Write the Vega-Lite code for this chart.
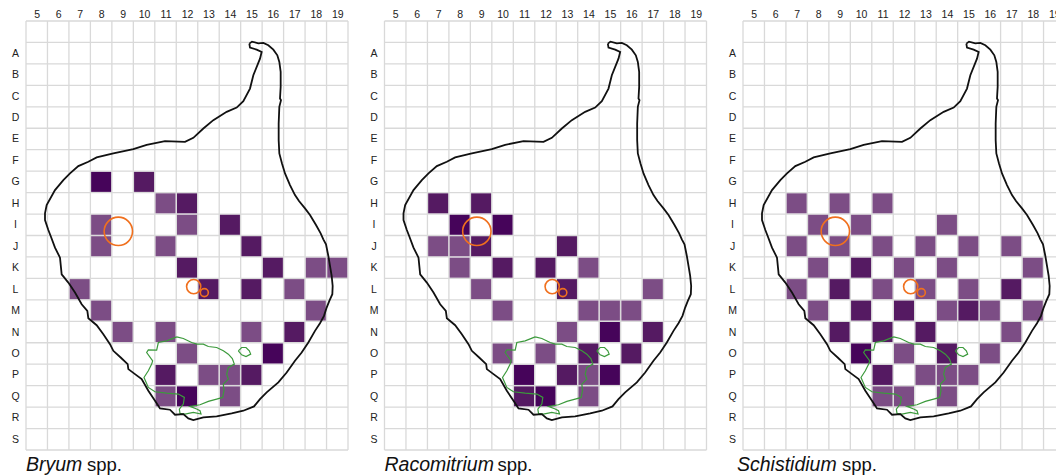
{"$schema":"https://vega.github.io/schema/vega-lite/v6.json","background":"white","padding":{"left":10,"top":9,"right":0,"bottom":0},"bounds":"flush","spacing":36.5,"config":{"view":{"stroke":null},"font":"Liberation Sans","axis":{"labelFont":"Liberation Sans","labelFontSize":10.5,"labelColor":"#222222","domain":false,"ticks":false,"grid":false,"title":null,"labelAngle":0}},
"datasets":{
"gridx":[{"x":78},{"x":142.4},{"x":206.8},{"x":271.2},{"x":335.6},{"x":400},{"x":464.4},{"x":528.8},{"x":593.2},{"x":657.6},{"x":722},{"x":786.4},{"x":850.8},{"x":915.2},{"x":979.6},{"x":1044}],
"gridy":[{"y":62},{"y":126.45},{"y":190.9},{"y":255.35},{"y":319.8},{"y":384.25},{"y":448.7},{"y":513.15},{"y":577.6},{"y":642.05},{"y":706.5},{"y":770.95},{"y":835.4},{"y":899.85},{"y":964.3},{"y":1028.75},{"y":1093.2},{"y":1157.65},{"y":1222.1},{"y":1286.55},{"y":1351}],
"outline":[{"x":748,"y":130},{"x":756,"y":124},{"x":775,"y":129},{"x":790,"y":128},{"x":805,"y":135},{"x":820,"y":148},{"x":832,"y":165},{"x":838,"y":185},{"x":842,"y":215},{"x":842,"y":260},{"x":840,"y":295},{"x":843,"y":300},{"x":838,"y":320},{"x":836,"y":370},{"x":836,"y":420},{"x":838,"y":460},{"x":846,"y":490},{"x":855,"y":520},{"x":870,"y":555},{"x":885,"y":585},{"x":897,"y":603},{"x":915,"y":625},{"x":930,"y":645},{"x":948,"y":675},{"x":962,"y":700},{"x":970,"y":718},{"x":978,"y":733},{"x":985,"y":768},{"x":990,"y":798},{"x":995,"y":828},{"x":998,"y":858},{"x":997,"y":883},{"x":988,"y":903},{"x":980,"y":923},{"x":972,"y":948},{"x":960,"y":970},{"x":945,"y":993},{"x":925,"y":1028},{"x":905,"y":1058},{"x":885,"y":1083},{"x":860,"y":1118},{"x":835,"y":1148},{"x":800,"y":1178},{"x":780,"y":1198},{"x":762,"y":1220},{"x":730,"y":1233},{"x":695,"y":1241},{"x":650,"y":1250},{"x":610,"y":1253},{"x":580,"y":1261},{"x":565,"y":1256},{"x":550,"y":1243},{"x":525,"y":1245},{"x":510,"y":1230},{"x":480,"y":1226},{"x":465,"y":1203},{"x":445,"y":1173},{"x":425,"y":1138},{"x":405,"y":1123},{"x":385,"y":1108},{"x":383,"y":1093},{"x":362,"y":1073},{"x":340,"y":1053},{"x":330,"y":1033},{"x":310,"y":1003},{"x":290,"y":976},{"x":265,"y":955},{"x":262,"y":933},{"x":245,"y":913},{"x":225,"y":878},{"x":205,"y":848},{"x":185,"y":823},{"x":180,"y":773},{"x":165,"y":743},{"x":152,"y":708},{"x":145,"y":690},{"x":135,"y":660},{"x":135,"y":640},{"x":140,"y":615},{"x":165,"y":570},{"x":190,"y":540},{"x":210,"y":520},{"x":235,"y":498},{"x":265,"y":485},{"x":290,"y":472},{"x":340,"y":460},{"x":400,"y":447},{"x":440,"y":434},{"x":495,"y":423},{"x":555,"y":425},{"x":580,"y":413},{"x":610,"y":385},{"x":640,"y":360},{"x":680,"y":335},{"x":710,"y":322},{"x":730,"y":303},{"x":750,"y":265},{"x":760,"y":225},{"x":780,"y":175},{"x":785,"y":155},{"x":770,"y":148},{"x":750,"y":142},{"x":748,"y":130}],
"lake":[{"p":"a","x":530,"y":1011},{"p":"a","x":550,"y":1016},{"p":"a","x":575,"y":1028},{"p":"a","x":590,"y":1033},{"p":"a","x":610,"y":1033},{"p":"a","x":625,"y":1040},{"p":"a","x":650,"y":1043},{"p":"a","x":670,"y":1053},{"p":"a","x":685,"y":1063},{"p":"a","x":697,"y":1076},{"p":"a","x":703,"y":1093},{"p":"a","x":685,"y":1103},{"p":"a","x":680,"y":1123},{"p":"a","x":685,"y":1138},{"p":"a","x":670,"y":1153},{"p":"a","x":672,"y":1173},{"p":"a","x":668,"y":1193},{"p":"a","x":650,"y":1198},{"p":"a","x":625,"y":1205},{"p":"a","x":600,"y":1215},{"p":"a","x":570,"y":1220},{"p":"a","x":590,"y":1228},{"p":"a","x":600,"y":1233},{"p":"a","x":603,"y":1243},{"p":"a","x":580,"y":1238},{"p":"a","x":555,"y":1243},{"p":"a","x":540,"y":1241},{"p":"a","x":538,"y":1228},{"p":"a","x":550,"y":1213},{"p":"a","x":553,"y":1193},{"p":"a","x":535,"y":1183},{"p":"a","x":500,"y":1180},{"p":"a","x":465,"y":1176},{"p":"a","x":445,"y":1163},{"p":"a","x":432,"y":1133},{"p":"a","x":445,"y":1113},{"p":"a","x":455,"y":1093},{"p":"a","x":458,"y":1083},{"p":"a","x":440,"y":1058},{"p":"a","x":445,"y":1050},{"p":"a","x":470,"y":1051},{"p":"a","x":475,"y":1028},{"p":"a","x":500,"y":1023},{"p":"a","x":530,"y":1011},{"p":"b","x":715,"y":1053},{"p":"b","x":725,"y":1043},{"p":"b","x":738,"y":1043},{"p":"b","x":748,"y":1053},{"p":"b","x":752,"y":1063},{"p":"b","x":738,"y":1070},{"p":"b","x":725,"y":1065},{"p":"b","x":715,"y":1053}],
"circles":[{"x":355,"y":694,"d":804},{"x":581,"y":860,"d":201},{"x":613,"y":878,"d":64}],
"labels":[{"s":"Bryum","t":"Bryum","k":"i","x":78,"y":1413},{"s":"Bryum","t":"spp.","k":"n","x":261,"y":1413},{"s":"Racomitrium","t":"Racomitrium","k":"i","x":78,"y":1413},{"s":"Racomitrium","t":"spp.","k":"n","x":417,"y":1413},{"s":"Schistidium","t":"Schistidium","k":"i","x":60,"y":1413},{"s":"Schistidium","t":"spp.","k":"n","x":375,"y":1413}],
"cells":[
{"s":"Bryum","c":8,"r":"G","v":"3"},{"s":"Bryum","c":10,"r":"G","v":"2"},{"s":"Bryum","c":11,"r":"H","v":"1"},{"s":"Bryum","c":12,"r":"H","v":"2"},{"s":"Bryum","c":8,"r":"I","v":"1"},{"s":"Bryum","c":12,"r":"I","v":"1"},{"s":"Bryum","c":14,"r":"I","v":"2"},{"s":"Bryum","c":8,"r":"J","v":"1"},{"s":"Bryum","c":11,"r":"J","v":"1"},{"s":"Bryum","c":15,"r":"J","v":"2"},{"s":"Bryum","c":12,"r":"K","v":"2"},{"s":"Bryum","c":16,"r":"K","v":"2"},{"s":"Bryum","c":18,"r":"K","v":"1"},{"s":"Bryum","c":19,"r":"K","v":"1"},{"s":"Bryum","c":7,"r":"L","v":"1"},{"s":"Bryum","c":13,"r":"L","v":"2"},{"s":"Bryum","c":15,"r":"L","v":"2"},{"s":"Bryum","c":17,"r":"L","v":"1"},{"s":"Bryum","c":8,"r":"M","v":"1"},{"s":"Bryum","c":18,"r":"M","v":"1"},{"s":"Bryum","c":9,"r":"N","v":"1"},{"s":"Bryum","c":11,"r":"N","v":"1"},{"s":"Bryum","c":15,"r":"N","v":"1"},{"s":"Bryum","c":17,"r":"N","v":"2"},{"s":"Bryum","c":12,"r":"O","v":"1"},{"s":"Bryum","c":16,"r":"O","v":"3"},{"s":"Bryum","c":11,"r":"P","v":"2"},{"s":"Bryum","c":13,"r":"P","v":"1"},{"s":"Bryum","c":14,"r":"P","v":"1"},{"s":"Bryum","c":15,"r":"P","v":"2"},{"s":"Bryum","c":11,"r":"Q","v":"1"},{"s":"Bryum","c":12,"r":"Q","v":"3"},{"s":"Bryum","c":14,"r":"Q","v":"1"},
{"s":"Racomitrium","c":7,"r":"H","v":"2"},{"s":"Racomitrium","c":9,"r":"H","v":"2"},{"s":"Racomitrium","c":8,"r":"I","v":"3"},{"s":"Racomitrium","c":10,"r":"I","v":"3"},{"s":"Racomitrium","c":7,"r":"J","v":"1"},{"s":"Racomitrium","c":8,"r":"J","v":"1"},{"s":"Racomitrium","c":9,"r":"J","v":"2"},{"s":"Racomitrium","c":13,"r":"J","v":"2"},{"s":"Racomitrium","c":8,"r":"K","v":"1"},{"s":"Racomitrium","c":10,"r":"K","v":"2"},{"s":"Racomitrium","c":12,"r":"K","v":"2"},{"s":"Racomitrium","c":14,"r":"K","v":"1"},{"s":"Racomitrium","c":9,"r":"L","v":"1"},{"s":"Racomitrium","c":13,"r":"L","v":"2"},{"s":"Racomitrium","c":17,"r":"L","v":"1"},{"s":"Racomitrium","c":10,"r":"M","v":"1"},{"s":"Racomitrium","c":14,"r":"M","v":"1"},{"s":"Racomitrium","c":15,"r":"M","v":"1"},{"s":"Racomitrium","c":16,"r":"M","v":"1"},{"s":"Racomitrium","c":13,"r":"N","v":"1"},{"s":"Racomitrium","c":15,"r":"N","v":"3"},{"s":"Racomitrium","c":17,"r":"N","v":"2"},{"s":"Racomitrium","c":10,"r":"O","v":"1"},{"s":"Racomitrium","c":12,"r":"O","v":"1"},{"s":"Racomitrium","c":14,"r":"O","v":"2"},{"s":"Racomitrium","c":16,"r":"O","v":"2"},{"s":"Racomitrium","c":11,"r":"P","v":"3"},{"s":"Racomitrium","c":13,"r":"P","v":"2"},{"s":"Racomitrium","c":14,"r":"P","v":"1"},{"s":"Racomitrium","c":15,"r":"P","v":"3"},{"s":"Racomitrium","c":11,"r":"Q","v":"2"},{"s":"Racomitrium","c":12,"r":"Q","v":"3"},{"s":"Racomitrium","c":14,"r":"Q","v":"1"},
{"s":"Schistidium","c":7,"r":"H","v":"1"},{"s":"Schistidium","c":9,"r":"H","v":"1"},{"s":"Schistidium","c":11,"r":"H","v":"1"},{"s":"Schistidium","c":8,"r":"I","v":"1"},{"s":"Schistidium","c":10,"r":"I","v":"1"},{"s":"Schistidium","c":14,"r":"I","v":"1"},{"s":"Schistidium","c":7,"r":"J","v":"1"},{"s":"Schistidium","c":9,"r":"J","v":"1"},{"s":"Schistidium","c":11,"r":"J","v":"1"},{"s":"Schistidium","c":13,"r":"J","v":"1"},{"s":"Schistidium","c":15,"r":"J","v":"1"},{"s":"Schistidium","c":17,"r":"J","v":"1"},{"s":"Schistidium","c":8,"r":"K","v":"1"},{"s":"Schistidium","c":10,"r":"K","v":"2"},{"s":"Schistidium","c":12,"r":"K","v":"1"},{"s":"Schistidium","c":14,"r":"K","v":"1"},{"s":"Schistidium","c":18,"r":"K","v":"1"},{"s":"Schistidium","c":7,"r":"L","v":"1"},{"s":"Schistidium","c":9,"r":"L","v":"2"},{"s":"Schistidium","c":11,"r":"L","v":"1"},{"s":"Schistidium","c":13,"r":"L","v":"1"},{"s":"Schistidium","c":15,"r":"L","v":"1"},{"s":"Schistidium","c":17,"r":"L","v":"2"},{"s":"Schistidium","c":8,"r":"M","v":"1"},{"s":"Schistidium","c":10,"r":"M","v":"2"},{"s":"Schistidium","c":12,"r":"M","v":"2"},{"s":"Schistidium","c":14,"r":"M","v":"1"},{"s":"Schistidium","c":15,"r":"M","v":"2"},{"s":"Schistidium","c":16,"r":"M","v":"1"},{"s":"Schistidium","c":18,"r":"M","v":"1"},{"s":"Schistidium","c":9,"r":"N","v":"2"},{"s":"Schistidium","c":11,"r":"N","v":"2"},{"s":"Schistidium","c":13,"r":"N","v":"2"},{"s":"Schistidium","c":17,"r":"N","v":"1"},{"s":"Schistidium","c":10,"r":"O","v":"3"},{"s":"Schistidium","c":12,"r":"O","v":"1"},{"s":"Schistidium","c":14,"r":"O","v":"2"},{"s":"Schistidium","c":16,"r":"O","v":"1"},{"s":"Schistidium","c":11,"r":"P","v":"2"},{"s":"Schistidium","c":13,"r":"P","v":"1"},{"s":"Schistidium","c":14,"r":"P","v":"1"},{"s":"Schistidium","c":15,"r":"P","v":"1"},{"s":"Schistidium","c":11,"r":"Q","v":"1"},{"s":"Schistidium","c":12,"r":"Q","v":"1"},{"s":"Schistidium","c":14,"r":"Q","v":"1"}
]},
"hconcat":[
{"width":322,"height":429,"resolve":{"scale":{"x":"independent","y":"independent"},"axis":{"x":"independent","y":"independent"}},
"encoding":{"x":{"field":"x","type":"quantitative","scale":{"domain":[78,1044],"nice":false,"zero":false},"axis":null},"y":{"field":"y","type":"quantitative","scale":{"domain":[62,1351],"reverse":true,"nice":false,"zero":false},"axis":null}},
"layer":[
{"data":{"name":"gridx"},"mark":{"type":"rule","color":"#d9d9d9","strokeWidth":1.3},"encoding":{"y":null}},
{"data":{"name":"gridy"},"mark":{"type":"rule","color":"#d9d9d9","strokeWidth":1.3},"encoding":{"x":null}},
{"data":{"name":"cells"},"transform":[{"filter":"datum.s=='Bryum'"}],"mark":{"type":"square","size":400,"opacity":1},"encoding":{"x":{"field":"c","type":"ordinal","scale":{"type":"point","padding":0.5,"domain":[5,6,7,8,9,10,11,12,13,14,15,16,17,18,19]},"axis":{"orient":"top","labelPadding":2}},"y":{"field":"r","type":"nominal","scale":{"type":"point","padding":0.5,"domain":["","A","B","C","D","E","F","G","H","I","J","K","L","M","N","O","P","Q","R","S"]},"axis":{"orient":"left","labelPadding":11,"labelAlign":"center"}},"color":{"field":"v","type":"nominal","scale":{"domain":["1","2","3"],"range":["#7c4d85","#551a62","#46045a"]},"legend":null}}},
{"data":{"name":"lake"},"mark":{"type":"line","color":"#3c9a3c","strokeWidth":1.2},"encoding":{"detail":{"field":"p"},"order":{"value":null}}},
{"data":{"name":"outline"},"mark":{"type":"line","color":"#111111","strokeWidth":1.8},"encoding":{"order":{"value":null}}},
{"data":{"name":"circles"},"mark":{"type":"point","shape":"circle","filled":false,"color":"#f0701e","strokeWidth":1.6,"opacity":1},"encoding":{"size":{"field":"d","type":"quantitative","scale":null}}},
{"data":{"name":"labels"},"transform":[{"filter":"datum.s=='Bryum' && datum.k=='i'"}],"mark":{"type":"text","align":"left","baseline":"alphabetic","fontSize":19.5,"fontStyle":"italic","color":"#111111"},"encoding":{"text":{"field":"t"}}},
{"data":{"name":"labels"},"transform":[{"filter":"datum.s=='Bryum' && datum.k=='n'"}],"mark":{"type":"text","align":"left","baseline":"alphabetic","fontSize":18.5,"color":"#111111"},"encoding":{"text":{"field":"t"}}}
]},
{"width":322,"height":429,"resolve":{"scale":{"x":"independent","y":"independent"},"axis":{"x":"independent","y":"independent"}},
"encoding":{"x":{"field":"x","type":"quantitative","scale":{"domain":[78,1044],"nice":false,"zero":false},"axis":null},"y":{"field":"y","type":"quantitative","scale":{"domain":[62,1351],"reverse":true,"nice":false,"zero":false},"axis":null}},
"layer":[
{"data":{"name":"gridx"},"mark":{"type":"rule","color":"#d9d9d9","strokeWidth":1.3},"encoding":{"y":null}},
{"data":{"name":"gridy"},"mark":{"type":"rule","color":"#d9d9d9","strokeWidth":1.3},"encoding":{"x":null}},
{"data":{"name":"cells"},"transform":[{"filter":"datum.s=='Racomitrium'"}],"mark":{"type":"square","size":400,"opacity":1},"encoding":{"x":{"field":"c","type":"ordinal","scale":{"type":"point","padding":0.5,"domain":[5,6,7,8,9,10,11,12,13,14,15,16,17,18,19]},"axis":{"orient":"top","labelPadding":2}},"y":{"field":"r","type":"nominal","scale":{"type":"point","padding":0.5,"domain":["","A","B","C","D","E","F","G","H","I","J","K","L","M","N","O","P","Q","R","S"]},"axis":{"orient":"left","labelPadding":11,"labelAlign":"center"}},"color":{"field":"v","type":"nominal","scale":{"domain":["1","2","3"],"range":["#7c4d85","#551a62","#46045a"]},"legend":null}}},
{"data":{"name":"lake"},"mark":{"type":"line","color":"#3c9a3c","strokeWidth":1.2},"encoding":{"detail":{"field":"p"},"order":{"value":null}}},
{"data":{"name":"outline"},"mark":{"type":"line","color":"#111111","strokeWidth":1.8},"encoding":{"order":{"value":null}}},
{"data":{"name":"circles"},"mark":{"type":"point","shape":"circle","filled":false,"color":"#f0701e","strokeWidth":1.6,"opacity":1},"encoding":{"size":{"field":"d","type":"quantitative","scale":null}}},
{"data":{"name":"labels"},"transform":[{"filter":"datum.s=='Racomitrium' && datum.k=='i'"}],"mark":{"type":"text","align":"left","baseline":"alphabetic","fontSize":19.5,"fontStyle":"italic","color":"#111111"},"encoding":{"text":{"field":"t"}}},
{"data":{"name":"labels"},"transform":[{"filter":"datum.s=='Racomitrium' && datum.k=='n'"}],"mark":{"type":"text","align":"left","baseline":"alphabetic","fontSize":18.5,"color":"#111111"},"encoding":{"text":{"field":"t"}}}
]},
{"width":322,"height":429,"resolve":{"scale":{"x":"independent","y":"independent"},"axis":{"x":"independent","y":"independent"}},
"encoding":{"x":{"field":"x","type":"quantitative","scale":{"domain":[78,1044],"nice":false,"zero":false},"axis":null},"y":{"field":"y","type":"quantitative","scale":{"domain":[62,1351],"reverse":true,"nice":false,"zero":false},"axis":null}},
"layer":[
{"data":{"name":"gridx"},"mark":{"type":"rule","color":"#d9d9d9","strokeWidth":1.3},"encoding":{"y":null}},
{"data":{"name":"gridy"},"mark":{"type":"rule","color":"#d9d9d9","strokeWidth":1.3},"encoding":{"x":null}},
{"data":{"name":"cells"},"transform":[{"filter":"datum.s=='Schistidium'"}],"mark":{"type":"square","size":400,"opacity":1},"encoding":{"x":{"field":"c","type":"ordinal","scale":{"type":"point","padding":0.5,"domain":[5,6,7,8,9,10,11,12,13,14,15,16,17,18,19]},"axis":{"orient":"top","labelPadding":2}},"y":{"field":"r","type":"nominal","scale":{"type":"point","padding":0.5,"domain":["","A","B","C","D","E","F","G","H","I","J","K","L","M","N","O","P","Q","R","S"]},"axis":{"orient":"left","labelPadding":11,"labelAlign":"center"}},"color":{"field":"v","type":"nominal","scale":{"domain":["1","2","3"],"range":["#7c4d85","#551a62","#46045a"]},"legend":null}}},
{"data":{"name":"lake"},"mark":{"type":"line","color":"#3c9a3c","strokeWidth":1.2},"encoding":{"detail":{"field":"p"},"order":{"value":null}}},
{"data":{"name":"outline"},"mark":{"type":"line","color":"#111111","strokeWidth":1.8},"encoding":{"order":{"value":null}}},
{"data":{"name":"circles"},"mark":{"type":"point","shape":"circle","filled":false,"color":"#f0701e","strokeWidth":1.6,"opacity":1},"encoding":{"size":{"field":"d","type":"quantitative","scale":null}}},
{"data":{"name":"labels"},"transform":[{"filter":"datum.s=='Schistidium' && datum.k=='i'"}],"mark":{"type":"text","align":"left","baseline":"alphabetic","fontSize":19.5,"fontStyle":"italic","color":"#111111"},"encoding":{"text":{"field":"t"}}},
{"data":{"name":"labels"},"transform":[{"filter":"datum.s=='Schistidium' && datum.k=='n'"}],"mark":{"type":"text","align":"left","baseline":"alphabetic","fontSize":18.5,"color":"#111111"},"encoding":{"text":{"field":"t"}}}
]}
]}
